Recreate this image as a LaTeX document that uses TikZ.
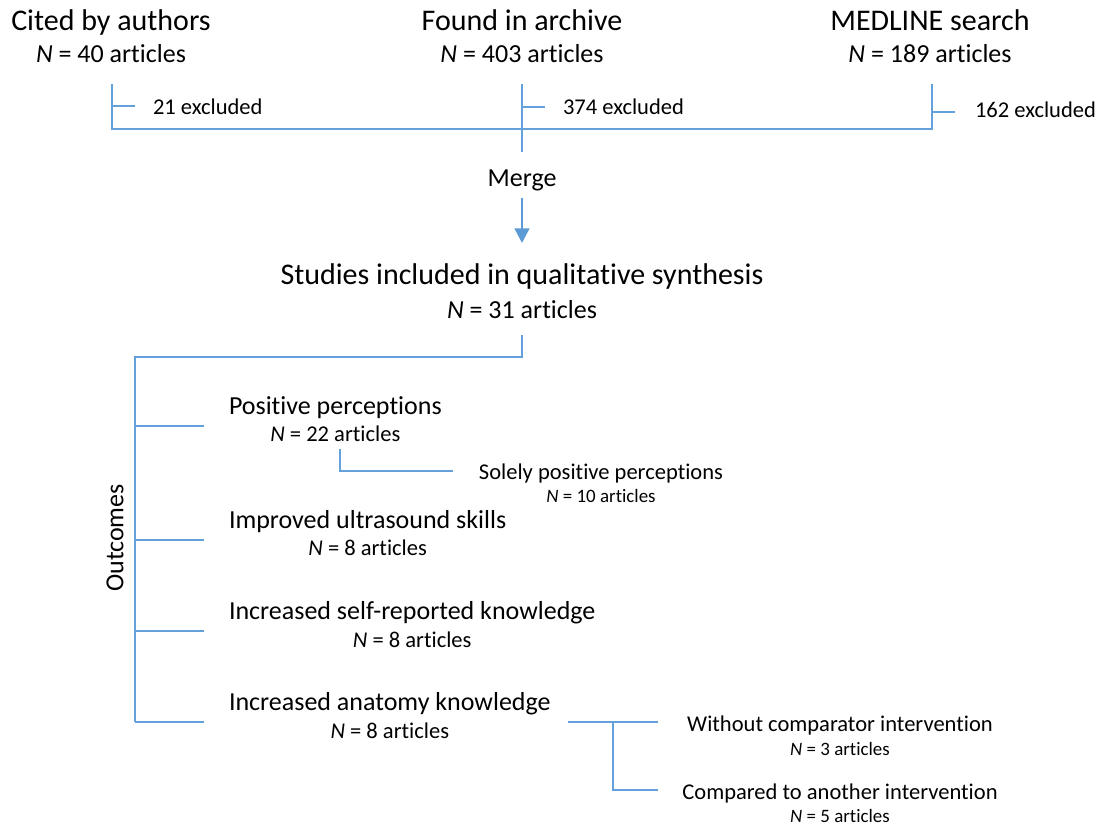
\documentclass[tikz,border=0pt]{standalone}
\usepackage{fontspec}
\setmainfont[Ligatures={NoCommon,NoRare,NoContextual}]{Carlito}
\usetikzlibrary{calc,arrows.meta}
\definecolor{lineblue}{RGB}{100,160,218}
\definecolor{arrowblue}{RGB}{91,155,213}
\newcommand{\fhead}{\fontsize{22.5}{27}\selectfont}
\newcommand{\fheadn}{\fontsize{19.5}{23}\selectfont}
\newcommand{\fmid}{\fontsize{19.5}{23}\selectfont}
\newcommand{\fmidn}{\fontsize{16.9}{20}\selectfont}
\newcommand{\fsmall}{\fontsize{16.9}{20}\selectfont}
\newcommand{\fsmalln}{\fontsize{14.2}{17}\selectfont}
\begin{document}
\begin{tikzpicture}[x=0.75pt,y=-0.75pt,
  txt/.style={inner sep=0pt,outer sep=0pt,text=black,anchor=base},
  link/.style={draw=lineblue,line width=0.9pt},
  mergearrow/.style={draw=arrowblue,line width=1.8pt,-{Triangle[length=11pt,width=11pt]}}]
\useasboundingbox (0,0) rectangle (1099,827);
% headers
\node[txt,font=\fhead] (cite) at (111,31) {Cited by authors};
\node[txt,font=\fheadn] (citen) at (111,63) {\textit{N} = 40 articles};
\node[txt,font=\fhead] (arch) at (522,31) {Found in archive};
\node[txt,font=\fheadn] (archn) at (522,63) {\textit{N} = 403 articles};
\node[txt,font=\fhead] (med) at (930,31) {MEDLINE search};
\node[txt,font=\fheadn] (medn) at (930,63) {\textit{N} = 189 articles};
% excluded
\node[txt,font=\fsmall,anchor=base west] (ex1) at (153,115) {21 excluded};
\node[txt,font=\fsmall,anchor=base west] (ex2) at (563,115) {374 excluded};
\node[txt,font=\fsmall,anchor=base west] (ex3) at (975,118) {162 excluded};
% coordinates top
\coordinate (c1t) at (112,84); \coordinate (c1b) at (112,129); \coordinate (c1k) at (112,106); \coordinate (c1e) at (135,106);
\coordinate (c2t) at (522,84); \coordinate (c2b) at (522,152); \coordinate (c2k) at (522,107); \coordinate (c2e) at (545,107);
\coordinate (c3t) at (932,84); \coordinate (c3b) at (932,129); \coordinate (c3k) at (932,112); \coordinate (c3e) at (955,112);
\draw[link] (c1t) -- (c1b) -- (c3b) -- (c3t);
\draw[link] (c2t) -- (c2b);
\draw[link] (c1k) -- (c1e);
\draw[link] (c2k) -- (c2e);
\draw[link] (c3k) -- (c3e);
% merge
\node[txt,font=\fmid] (merge) at (522,187) {Merge};
\coordinate (ma) at (522,198); \coordinate (mb) at (522,243);
\draw[mergearrow] (ma) -- (mb);
% studies
\node[txt,font=\fhead] (stud) at (522,285) {Studies included in qualitative synthesis};
\node[txt,font=\fheadn] (studn) at (522,318) {\textit{N} = 31 articles};
% outcomes tree
\coordinate (s1) at (522,335); \coordinate (s2) at (522,357); \coordinate (s3) at (135,357); \coordinate (s4) at (135,722);
\draw[link] (s1) -- (s2) -- (s3) -- (s4);
\node[txt,font=\fmid,rotate=90,anchor=center] (outc) at (115,538) {Outcomes};
\foreach \yy/\nm in {426/t1,540/t2,631/t3,722/t4}{
  \coordinate (\nm a) at (135,\yy); \coordinate (\nm b) at (204,\yy);
  \draw[link] (\nm a) -- (\nm b);
}
% groups
\node[txt,font=\fmid,anchor=base west] (pp) at (229,414) {Positive perceptions};
\node[txt,font=\fmidn] (ppn) at ($(pp.base)+(0,27)$) {\textit{N} = 22 articles};
\node[txt,font=\fmid,anchor=base west] (us) at (229,528) {Improved ultrasound skills};
\node[txt,font=\fmidn] (usn) at ($(us.base)+(0,27)$) {\textit{N} = 8 articles};
\node[txt,font=\fmid,anchor=base west] (sr) at (229,619) {Increased self-reported knowledge};
\node[txt,font=\fmidn] (srn) at ($(sr.base)+(0,28)$) {\textit{N} = 8 articles};
\node[txt,font=\fmid,anchor=base west] (an) at (229,710) {Increased anatomy knowledge};
\node[txt,font=\fmidn] (ann) at ($(an.base)+(0,28)$) {\textit{N} = 8 articles};
% solely positive
\coordinate (p1) at (340,449); \coordinate (p2) at (340,471); \coordinate (p3) at (453,471);
\draw[link] (p1) -- (p2) -- (p3);
\node[txt,font=\fsmall] (sol) at (601,479) {Solely positive perceptions};
\node[txt,font=\fsmalln] (soln) at (601,502) {\textit{N} = 10 articles};
% anatomy split
\coordinate (a1) at (568,722); \coordinate (a2) at (613,722); \coordinate (a3) at (658,722);
\coordinate (a4) at (613,790); \coordinate (a5) at (658,790);
\draw[link] (a1) -- (a3);
\draw[link] (a2) -- (a4) -- (a5);
\node[txt,font=\fsmall] (wo) at (840,731) {Without comparator intervention};
\node[txt,font=\fsmalln] (won) at (840,755) {\textit{N} = 3 articles};
\node[txt,font=\fsmall] (cmp) at (840,799) {Compared to another intervention};
\node[txt,font=\fsmalln] (cmpn) at (840,822) {\textit{N} = 5 articles};
\end{tikzpicture}
\end{document}
